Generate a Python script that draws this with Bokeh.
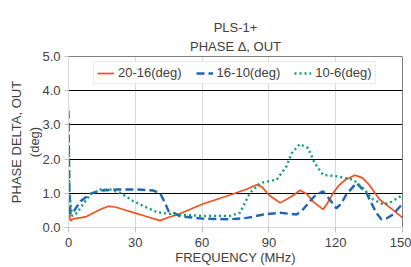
from bokeh.plotting import figure
from bokeh.models import Range1d, FixedTicker, Span, Legend, LegendItem, Title
from bokeh.embed import file_html
from bokeh.resources import INLINE

# ---- data ----
red_x = [0, 0.3, 0.8, 2, 5, 8, 12, 15, 18, 21, 25, 30, 35, 41, 45, 50, 60, 72.5, 80, 84.5, 87,
         90, 95, 100, 104, 107, 110, 114.3, 116, 118.8, 121, 124, 128.5, 132, 135, 139.7, 145, 150]
red_y = [0.7, 0.55, 0.2, 0.25, 0.28, 0.32, 0.45, 0.55, 0.62, 0.6, 0.52, 0.42, 0.32, 0.2, 0.3, 0.4,
         0.68, 0.95, 1.12, 1.25, 1.18, 0.95, 0.72, 0.9, 1.09, 0.98, 0.75, 0.53, 0.68, 1.0, 1.2,
         1.38, 1.53, 1.45, 1.25, 0.82, 0.55, 0.29]

blue_x = [0, 0.4, 0.9, 2.4, 5.4, 9.9, 14.3, 21.8, 30.8, 38.2, 41.2, 43.4, 44.9, 47.9, 50, 60,
          72.5, 80, 87.5, 95, 102.4, 105, 108.4, 111, 114.3, 117.3, 120.3, 122.5, 124.8, 129.3,
          133.8, 138.2, 140.5, 143, 145.7, 149.4, 150]
blue_y = [3.42, 1.0, 0.39, 0.48, 0.77, 0.99, 1.08, 1.11, 1.11, 1.08, 0.99, 0.72, 0.48, 0.41, 0.33,
          0.26, 0.24, 0.28, 0.38, 0.43, 0.38, 0.5, 0.77, 0.95, 1.06, 0.82, 0.56, 0.7, 0.97, 1.3,
          1.01, 0.43, 0.24, 0.27, 0.38, 0.65, 0.68]

green_x = [0, 0.4, 1.6, 3.9, 6.9, 9.9, 14.3, 18.8, 23.3, 29.2, 35.2, 39.7, 44.2, 48.7, 60, 72.5,
           77, 81.5, 86, 93.5, 97.9, 100.2, 103.9, 107.6, 110.6, 114.3, 120.3, 127.8, 132.2,
           136.7, 141.2, 144.2, 149.4, 150]
green_y = [3.0, 1.0, 0.34, 0.43, 0.72, 0.97, 1.11, 1.11, 1.01, 0.77, 0.58, 0.45, 0.41, 0.38, 0.34,
           0.34, 0.43, 1.01, 1.3, 1.4, 1.79, 2.17, 2.44, 2.32, 1.88, 1.54, 1.5, 1.4, 1.16, 0.82,
           0.68, 0.72, 0.92, 0.94]

series_names = ["20-16(deg)", "16-10(deg)", "10-6(deg)"]
x_ticks = [0, 30, 60, 90, 120, 150]
y_ticks = [0, 1, 2, 3, 4, 5]

FONT = "Liberation Sans"
TXT = "#404040"

p = figure(width=411, height=267, output_backend="svg", toolbar_location=None,
           x_range=Range1d(0, 150), y_range=Range1d(0, 5),
           min_border_left=68, min_border_right=9, min_border_top=56, min_border_bottom=39)
p.outline_line_color = None
p.background_fill_color = "white"
p.border_fill_color = "white"

# titles (first added sits nearest the frame)
t2 = Title(text="PHASE \u0394, OUT", align="center", text_font=FONT, text_font_size="13px",
           text_font_style="normal", text_color=TXT, standoff=5)
t1 = Title(text="PLS-1+", align="center", text_font=FONT, text_font_size="13px",
           text_font_style="normal", text_color=TXT, standoff=0)
p.add_layout(t2, "above")
p.add_layout(t1, "above")

# grids
p.xgrid.ticker = FixedTicker(ticks=[30, 60, 90, 120])
p.xgrid.grid_line_color = "#d9d9d9"
p.ygrid.ticker = FixedTicker(ticks=[1, 2, 3, 4])
p.ygrid.grid_line_color = "black"
p.ygrid.grid_line_width = 1

# frame top and right in black
p.add_layout(Span(location=5, dimension="width", line_color="black", line_width=1))
p.add_layout(Span(location=150, dimension="height", line_color="black", line_width=1))

# axes
for ax in (p.xaxis[0], p.yaxis[0]):
    ax.axis_line_color = "#d9d9d9"
    ax.major_tick_line_color = "#bfbfbf"
    ax.minor_tick_line_color = None
    ax.major_tick_in = 0
    ax.major_label_text_font = FONT
    ax.major_label_text_font_size = "13px"
    ax.major_label_text_color = TXT
    ax.axis_label_text_font = FONT
    ax.axis_label_text_font_size = "13px"
    ax.axis_label_text_font_style = "normal"
    ax.axis_label_text_color = TXT

p.xaxis.ticker = FixedTicker(ticks=x_ticks)
p.xaxis.major_tick_out = 5
p.xaxis.major_label_standoff = 5
p.xaxis.axis_label = "FREQUENCY (MHz)"
p.xaxis.axis_label_standoff = 0
p.yaxis.ticker = FixedTicker(ticks=y_ticks)
p.yaxis.major_tick_out = 4
p.yaxis.major_label_standoff = 4
p.yaxis.major_label_overrides = {t: f"{t:.1f}" for t in y_ticks}
p.yaxis.axis_label = "PHASE DELTA, OUT\n(deg)"
p.yaxis.axis_label_standoff = -3

r1 = p.line(red_x, red_y, line_color="#f4511e", line_width=1.7)
r2 = p.line(blue_x, blue_y, line_color="#1f64b5", line_width=2.4, line_dash="8 4")
r3 = p.line(green_x, green_y, line_color="#10a06b", line_width=2.4, line_dash="2 3")

legend = Legend(items=[LegendItem(label=series_names[0], renderers=[r1]),
                       LegendItem(label=series_names[1], renderers=[r2]),
                       LegendItem(label=series_names[2], renderers=[r3])],
                orientation="horizontal", location=(25, 143))
legend.label_text_font = FONT
legend.label_text_font_size = "13px"
legend.label_text_color = TXT
legend.glyph_width = 17
legend.glyph_height = 14
legend.label_height = 14
legend.label_standoff = 4
legend.spacing = 14
legend.padding = 3
legend.margin = 0
legend.border_line_color = "#d9d9d9"
legend.background_fill_alpha = 1
p.add_layout(legend)

open("out.html", "w").write(file_html(p, INLINE))
